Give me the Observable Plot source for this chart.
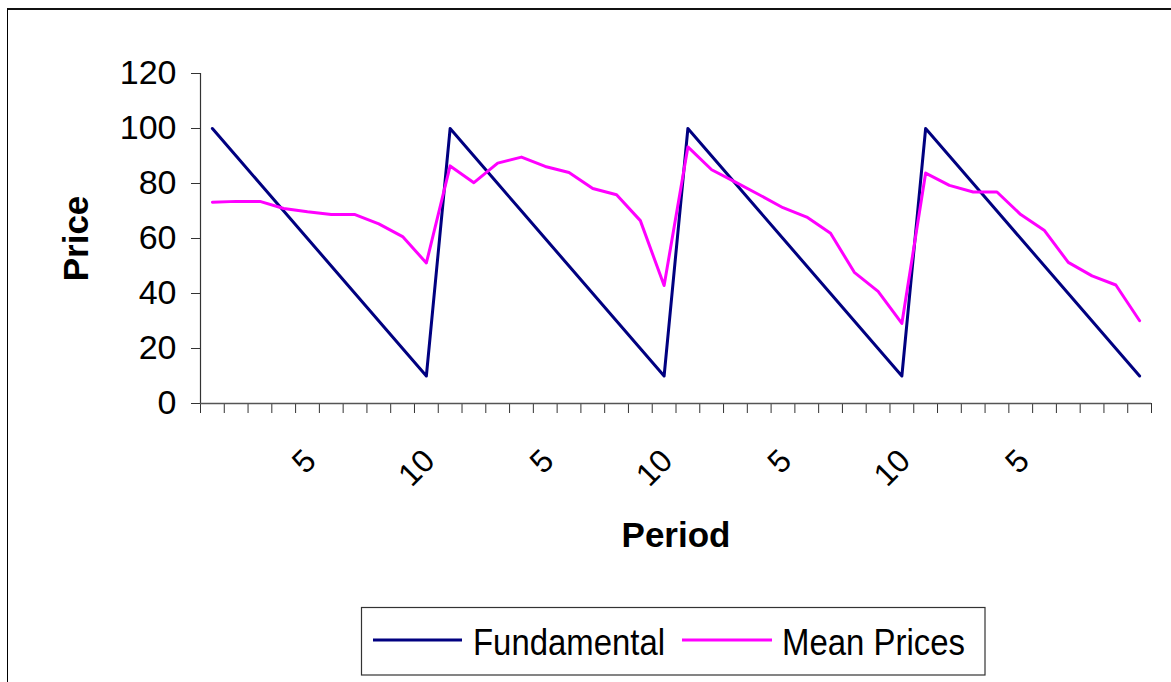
<!DOCTYPE html>
<html>
<head>
<meta charset="utf-8">
<script src="https://cdn.jsdelivr.net/npm/d3@7"></script>
<script src="https://cdn.jsdelivr.net/npm/@observablehq/plot@0.6"></script>
<style>
  html, body { margin: 0; padding: 0; background: #fff; overflow: hidden; }
  #wrap { position: relative; width: 1171px; height: 682px; font-family: "Liberation Sans", Arial, sans-serif; }
  #frame { position: absolute; left: 7px; top: 8px; width: 1200px; height: 700px; border-left: 1px solid #000; border-top: 2px solid #111; }
  #chart { position: absolute; left: 0; top: 0; }
  #legend { position: absolute; left: 0; top: 600px; }
</style>
</head>
<body>
<div id="wrap">
  <div id="frame"></div>
  <div id="chart"></div>
  <div id="legend"></div>
</div>
<script>
// ---- data ----
const periods = d3.range(1, 41);
const fundamental = [
  100, 90, 80, 70, 60, 50, 40, 30, 20, 10,
  100, 90, 80, 70, 60, 50, 40, 30, 20, 10,
  100, 90, 80, 70, 60, 50, 40, 30, 20, 10,
  100, 90, 80, 70, 60, 50, 40, 30, 20, 10
];
const meanPrices = [
  73.2, 73.5, 73.5, 70.9, 69.7, 68.7, 68.7, 65.3, 60.7, 51.1,
  86.4, 80.3, 87.4, 89.6, 86.2, 84.0, 78.2, 75.9, 66.5, 42.9,
  93.3, 85.0, 80.5, 75.9, 71.2, 67.8, 61.9, 47.7, 40.8, 29.1,
  83.8, 79.3, 76.9, 76.9, 68.7, 62.9, 51.3, 46.4, 43.1, 30.1
];
const xLabelPeriods = [5, 10, 15, 20, 25, 30, 35];
const xLabelText = ["5", "10", "5", "10", "5", "10", "5"];
const yTicks = [0, 20, 40, 60, 80, 100, 120];
const seriesNames = ["Fundamental", "Mean Prices"];
const seriesColors = ["#000080", "#FF00FF"];

const rows = periods.map((p, i) => ({period: p, fundamental: fundamental[i], mean: meanPrices[i]}));
const boundaries = d3.range(0, 41).map(i => i + 0.5);
const xLabels = xLabelPeriods.map((p, i) => ({period: p, label: xLabelText[i]}));

const chart = Plot.plot({
  width: 1171,
  height: 600,
  marginLeft: 200,
  marginRight: 20,
  marginTop: 73,
  marginBottom: 197,
  x: {domain: [0.5, 40.5], axis: null},
  y: {domain: [0, 120], axis: null},
  style: {fontFamily: "'Liberation Sans', Arial, sans-serif", background: "transparent", color: "#000", overflow: "visible"},
  marks: [
    Plot.axisY({ticks: yTicks, tickSize: 9, tickPadding: 15, fontSize: 34, label: null, stroke: "#333"}),
    Plot.axisX({ticks: boundaries, tickSize: 10, tickFormat: () => "", label: null, stroke: "#333"}),
    Plot.ruleX([0.5], {y1: 0, y2: 120, stroke: "#333", strokeWidth: 1.2}),
    Plot.ruleY([0], {stroke: "#555", strokeWidth: 1.5}),
    Plot.line(rows, {x: "period", y: "fundamental", stroke: seriesColors[0], strokeWidth: 3}),
    Plot.line(rows, {x: "period", y: "mean", stroke: seriesColors[1], strokeWidth: 3}),
    Plot.text(xLabels, {x: "period", y: () => 0, text: "label", rotate: -45, textAnchor: "end", lineAnchor: "middle", dx: 3, dy: 52, fontSize: 32, fill: "#000"}),
    Plot.text(["Price"], {x: () => 0.5, y: () => 60, text: d => d, dx: -124, rotate: -90, textAnchor: "middle", lineAnchor: "middle", fontSize: 35, fontWeight: "bold", fill: "#000"}),
    Plot.text(["Period"], {x: () => 20.5, y: () => 0, text: d => d, dy: 132, textAnchor: "middle", lineAnchor: "middle", fontSize: 35, fontWeight: "bold", fill: "#000", letterSpacing: "1px"})
  ]
});
document.getElementById("chart").appendChild(chart);

// ---- legend ----
const lg = d3.select("#legend").append("svg")
  .attr("width", 1171).attr("height", 82)
  .style("font-family", "'Liberation Sans', Arial, sans-serif");
const oy = 600;
lg.append("rect").attr("x", 361.5).attr("y", 607.5 - oy).attr("width", 623.5).attr("height", 67.5)
  .attr("fill", "#fff").attr("stroke", "#333").attr("stroke-width", 1.2);
const items = [
  {x1: 373, x2: 462, tx: 473, tw: 192},
  {x1: 682, x2: 772, tx: 782, tw: 183}
];
items.forEach((it, i) => {
  lg.append("line").attr("x1", it.x1).attr("x2", it.x2).attr("y1", 640 - oy).attr("y2", 640 - oy)
    .attr("stroke", seriesColors[i]).attr("stroke-width", 2.8);
  lg.append("text").attr("x", it.tx).attr("y", 655 - oy).attr("font-size", 37)
    .attr("textLength", it.tw).attr("lengthAdjust", "spacingAndGlyphs")
    .attr("fill", "#000").text(seriesNames[i]);
});
</script>
</body>
</html>
